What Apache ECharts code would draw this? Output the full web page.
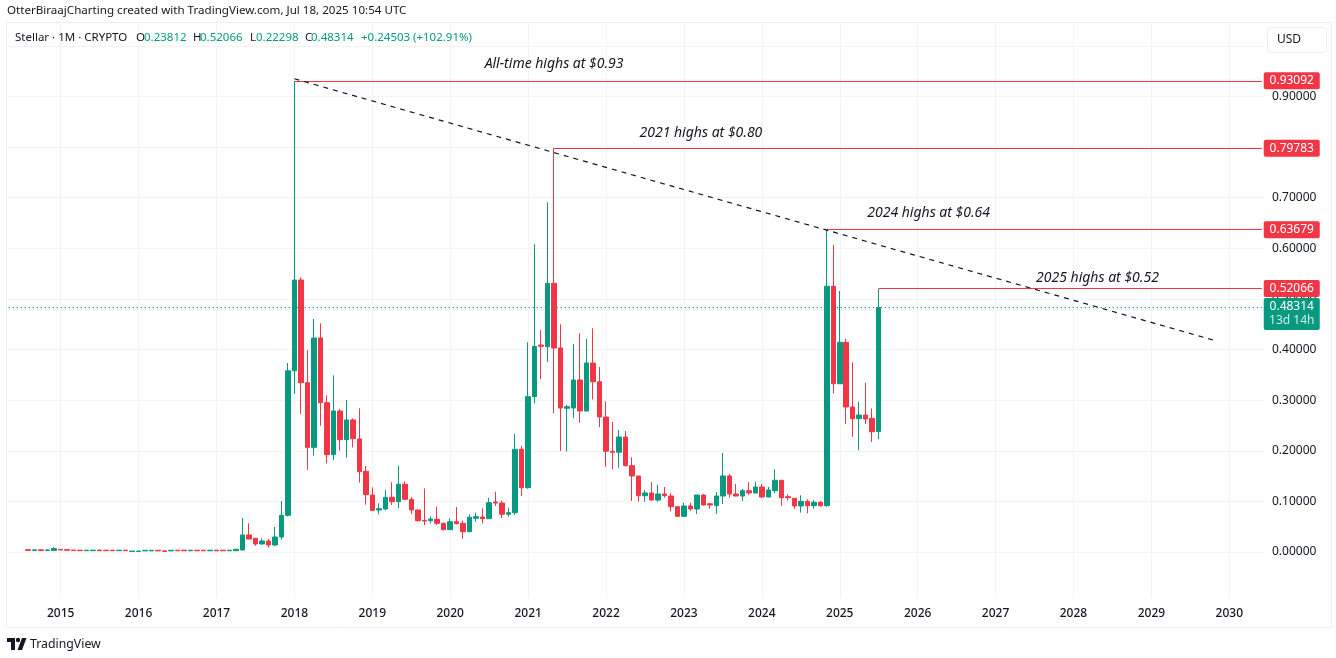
<!DOCTYPE html>
<html>
<head>
<meta charset="utf-8">
<style>
  html, body { margin: 0; padding: 0; background: #fff; }
  #chart { width: 1336px; height: 658px; }
</style>
<script src="https://cdn.jsdelivr.net/npm/echarts@6/dist/echarts.min.js"></script>
</head>
<body>
<div id="chart"></div>
<script>
  const FONT = '"Noto Sans", sans-serif';
  const UP = "#089981";
  const DOWN = "#f23645";
  const INK = "#131722";

  // Aug 2014 .. Jul 2025, one row per calendar year
  const firstCandle = 3;
  const candleOpen = [
    .0044, .0028, .0042, .0028, .0030,
    .0052, .0046, .0038, .0036, .0026, .0026, .0038, .0036, .0036, .0026, .0036, .0010,
    .0010, .0022, .0022, .0034, .0022, .0022, .0036, .0036, .0024, .0036, .0036, .0024,
    .0036, .0036, .0024, .0025, .0040, .0336, .0270, .0158, .0217, .0138, .0296, .0725,
    .358, .5374, .3345, .2068, .4228, .295, .1923, .2786, .222, .2609, .2233, .1594,
    .1126, .083, .085, .1081, .0994, .1338, .1041, .083, .0625, .0619, .0646, .0567,
    .0441, .0599, .0567, .0401, .0666, .0692, .0658, .0988, .0968, .0745, .0777, .2029,
    .1271, .3069, .409, .4057, .5309, .4031, .2839, .2845, .3399, .2786, .3734, .3365,
    .2667, .199, .197, .2272, .1705, .1502, .1112, .1166, .1027, .1146, .1107, .0895,
    .0705, .0909, .085, .1126, .0954, .0915, .1106, .1502, .1146, .1106, .1211, .1166,
    .1284, .1087, .1211, .1417, .1093, .1061, .0909, .1002, .0915, .0982, .0915, .525,
    .3325, .4143, .2865, .2634, .2707, .2641, .23812,
  ];
  const candleClose = [
    .0030, .0042, .0028, .0040, .0069,
    .0040, .0034, .0028, .0026, .0036, .0036, .0026, .0026, .0026, .0036, .0026, .0018,
    .0018, .0034, .0034, .0022, .0012, .0034, .0024, .0024, .0036, .0024, .0024, .0036,
    .0024, .0024, .0036, .0053, .0336, .0257, .0158, .0217, .0138, .0296, .0725, .358,
    .5374, .3345, .2068, .4228, .295, .1923, .2786, .222, .2609, .2239, .1587, .1133,
    .0823, .0856, .1081, .0994, .1338, .1041, .083, .0619, .0612, .0652, .0567, .0441,
    .0599, .0559, .0401, .0686, .0698, .0658, .0974, .0968, .0745, .0777, .2029, .1271,
    .3069, .4064, .4064, .5309, .4031, .2845, .2871, .3399, .2786, .3734, .3365, .2667,
    .199, .197, .2272, .1705, .1502, .1112, .1166, .1027, .1146, .1112, .0895, .0705,
    .0909, .085, .1126, .0929, .0929, .1106, .1502, .1146, .1106, .1211, .1166, .1284,
    .1087, .1225, .1417, .1073, .1073, .0909, .1002, .0915, .0982, .0915, .525, .3325,
    .4143, .2865, .2634, .2707, .2628, .2377, .48314,
  ];
  const candleLow = [
    .0026, .0026, .0026, .0026, .0028,
    .0038, .0032, .0026, .0024, .0024, .0024, .0024, .0024, .0024, .0024, .0024, .0008,
    .0008, .0020, .0020, .0020, .0010, .0020, .0022, .0022, .0022, .0022, .0022, .0022,
    .0022, .0022, .0022, .0020, .0036, .0250, .0124, .0150, .0085, .0119, .0243, .0700,
    .312, .2727, .162, .1904, .2496, .1752, .1818, .2002, .1864, .2068, .137, .0935,
    .0815, .0745, .0824, .0929, .0869, .1035, .0751, .0599, .0533, .0567, .0533, .0428,
    .0435, .0546, .0263, .039, .0599, .0567, .0652, .0909, .0672, .0698, .0737, .1107,
    .1251, .2938, .3418, .3754, .274, .1996, .1982, .2641, .2555, .2780, .3017, .247,
    .1686, .1634, .1666, .1690, .1008, .0994, .0994, .1021, .0994, .1073, .0804, .0700,
    .0698, .0816, .0751, .0920, .0856, .0751, .0948, .1073, .1100, .1008, .1132, .1160,
    .1067, .1080, .1166, .0915, .1014, .085, .0777, .0765, .0856, .0895, .0895, .3135,
    .3325, .2529, .2278, .2009, .2529, .2174, .22298,
  ];
  const candleHigh = [
    .0056, .0046, .0046, .0046, .0099,
    .0056, .0048, .0040, .0038, .0038, .0038, .0040, .0038, .0038, .0038, .0038, .0020,
    .0020, .0036, .0036, .0036, .0024, .0036, .0038, .0038, .0038, .0038, .0038, .0038,
    .0038, .0038, .0038, .0060, .0672, .0567, .0280, .027, .0257, .0494, .1008, .3734,
    .93092, .5427, .399, .4604, .4518, .3095, .349, .2825, .3003, .2641, .2839, .17,
    .1278, .0962, .1225, .1377, .17, .1397, .1081, .0836, .1258, .0705, .0895, .058,
    .0666, .0889, .0619, .0745, .0777, .0863, .1073, .1192, .1014, .0875, .2332, .2094,
    .4143, .608, .4386, .691, .79783, .4499, .2905, .411, .4321, .4209, .442, .3655,
    .2977, .2569, .2411, .2391, .1871, .1502, .1225, .1383, .1324, .1284, .116, .0895,
    .0974, .0974, .1126, .1146, .0954, .1186, .1956, .1541, .1344, .1251, .1383, .1389,
    .1344, .1284, .1634, .1417, .1146, .1061, .112, .1041, .1027, .1008, .63679, .6066,
    .5157, .4209, .3748, .297, .3345, .2839, .52066,
  ];

  const priceTicks = [0, 0.1, 0.2, 0.3, 0.4, 0.5, 0.6, 0.7, 0.8, 0.9, 1];
  const highMonths = ["2018-01", "2021-05", "2024-11", "2025-07"];
  const highValues = [0.93092, 0.79783, 0.63679, 0.52066];
  const noteTexts = ["All-time highs at $0.93", "2021 highs at $0.80", "2024 highs at $0.64", "2025 highs at $0.52"];
  const noteMonths = ["2021-05", "2023-04", "2026-03", "2028-05"];
  const noteValues = [0.966, 0.83, 0.6724, 0.5434];
  const noteShift = [0, -2.5, -2, -2];
  const lastPrice = 0.48314;
  const lastCountdown = "13d 14h";
  const trendMonths = ["2018-01", "2029-11"];
  const trendValues = [0.935, 0.4171];
  const headerPieces = [
    ["Stellar · 1M · CRYPTO", 15, INK], ["O", 136, INK], ["0.23812", 144, UP],
    ["H", 193, INK], ["0.52066", 200, UP], ["L", 250, INK], ["0.22298", 256, UP],
    ["C", 305, INK], ["0.48314", 311, UP], ["+0.24503", 361, UP], ["(+102.91%)", 413, UP],
  ];

  // May 2014 .. Jun 2030
  const months = [];
  for (let i = 0; i < 194; i++) {
    const m = 4 + i;
    months.push(2014 + Math.floor(m / 12) + "-" + String(m % 12 + 1).padStart(2, "0"));
  }
  const lastMonth = months[months.length - 1];
  const isJanuary = (index, value) => value.endsWith("-01");

  const candles = candleOpen.map((o, i) => [i + firstCandle, o, candleClose[i], candleLow[i], candleHigh[i]]);

  const chart = echarts.init(document.getElementById("chart"));

  const tagLabel = {
    show: true,
    position: "right",
    distance: 1,
    offset: [28.5, 0],
    fontFamily: FONT,
    fontSize: 12,
    color: "#fff",
    width: 48,
    align: "center",
    padding: [2, 4, 2, 4],
    borderRadius: 2,
    lineHeight: 13,
  };

  chart.setOption({
    animation: false,
    backgroundColor: "#fff",
    textStyle: { fontFamily: FONT },
    grid: { left: 5.5, right: 71, top: 22, bottom: 60 },
    xAxis: {
      type: "category",
      data: months,
      axisLine: { show: false },
      axisTick: { show: false },
      axisLabel: {
        interval: isJanuary,
        formatter: (v) => v.slice(0, 4),
        color: INK,
        fontFamily: FONT,
        fontSize: 12,
        fontWeight: 500,
        margin: 10,
      },
      splitLine: { show: true, interval: isJanuary, alignWithLabel: true, lineStyle: { color: "#f3f4f6", width: 1 } },
    },
    yAxis: {
      type: "value",
      position: "right",
      min: -0.0909,
      max: 1.0472,
      axisLine: { show: false },
      axisTick: { show: false, customValues: priceTicks },
      axisLabel: {
        customValues: priceTicks,
        formatter: (v) => v.toFixed(5),
        color: INK,
        fontFamily: FONT,
        fontSize: 12,
        margin: 7,
      },
      splitLine: { show: true, lineStyle: { color: "#f3f4f6", width: 1 } },
    },
    series: [
      {
        type: "candlestick",
        data: candles,
        encode: { x: 0, y: [1, 2, 3, 4] },
        barWidth: 5,
        itemStyle: { color: UP, color0: DOWN, borderColor: UP, borderColor0: DOWN, borderWidth: 1 },
        silent: true,
        markLine: {
          silent: true,
          symbol: "none",
          animation: false,
          label: { show: false },
          data: [
            ...highMonths.map((m, i) => [
              { coord: [m, highValues[i]], lineStyle: { color: DOWN, width: 1.2, type: "solid" } },
              { coord: [lastMonth, highValues[i]] },
            ]),
            [
              { coord: [months[0], lastPrice], lineStyle: { color: UP, width: 1.2, type: [1.2, 2.8] } },
              { coord: [lastMonth, lastPrice] },
            ],
            [
              { coord: [trendMonths[0], trendValues[0]], lineStyle: { color: INK, width: 1.2, type: [5, 5] } },
              { coord: [trendMonths[1], trendValues[1]] },
            ],
          ],
        },
        markPoint: {
          silent: true,
          animation: false,
          symbol: "circle",
          symbolSize: 1,
          itemStyle: { color: "transparent" },
          data: [
            ...highValues.map((v) => ({
              coord: [lastMonth, v],
              label: { ...tagLabel, backgroundColor: DOWN, formatter: v.toFixed(5) },
            })),
            {
              coord: [lastMonth, lastPrice],
              label: {
                ...tagLabel,
                backgroundColor: UP,
                padding: [2, 4, 2, 4],
                offset: [28.5, 6.5],
                formatter: "{p|" + lastPrice.toFixed(5) + "}\n{t|" + lastCountdown + "}",
                rich: {
                  p: { color: "#fff", fontFamily: FONT, fontSize: 12, lineHeight: 14, width: 48, align: "center" },
                  t: { color: "rgba(255,255,255,0.8)", fontFamily: FONT, fontSize: 12, lineHeight: 14, width: 48, align: "center" },
                },
              },
            },
            ...noteTexts.map((t, i) => ({
              coord: [noteMonths[i], noteValues[i]],
              label: {
                show: true,
                position: "inside",
                offset: [noteShift[i], 1],
                formatter: t,
                color: INK,
                fontFamily: FONT,
                fontStyle: "italic",
                fontSize: 14,
              },
            })),
          ],
        },
      },
    ],
    graphic: [
      { type: "rect", silent: true, z: -1, shape: { x: 6.5, y: 22.5, width: 1325, height: 605 }, style: { fill: "none", stroke: "#eceef2", lineWidth: 1 } },
      { type: "text", silent: true, x: 7, y: 11, style: { text: "OtterBiraajCharting created with TradingView.com, Jul 18, 2025 10:54 UTC", fontFamily: FONT, fontSize: 11.6, fill: INK, verticalAlign: "middle" } },
      ...headerPieces.map((p) => ({
        type: "text", silent: true, z: 60, x: p[1], y: 38,
        style: { text: p[0], fontFamily: FONT, fontSize: 11.5, fill: p[2], verticalAlign: "middle" },
      })),
      { type: "rect", silent: true, z: 50, shape: { x: 1267.5, y: 27.5, width: 59, height: 25, r: 4 }, style: { fill: "#fff", stroke: "#eceef2", lineWidth: 1 } },
      { type: "text", silent: true, z: 51, x: 1277, y: 40, style: { text: "USD", fontFamily: FONT, fontSize: 12, fill: INK, verticalAlign: "middle" } },
      { type: "polygon", silent: true, shape: { points: [[7, 638], [15, 638], [15, 650], [11, 650], [11, 642], [7, 642]] }, style: { fill: INK } },
      { type: "polygon", silent: true, shape: { points: [[22, 638], [26.5, 638], [22, 650], [17.5, 650]] }, style: { fill: INK } },
      { type: "circle", silent: true, x: 18, y: 640, shape: { r: 2.2 }, style: { fill: INK } },
      { type: "text", silent: true, x: 30, y: 644, style: { text: "TradingView", fontFamily: FONT, fontSize: 12.3, fill: INK, verticalAlign: "middle" } },
    ],
  });
</script>
</body>
</html>
